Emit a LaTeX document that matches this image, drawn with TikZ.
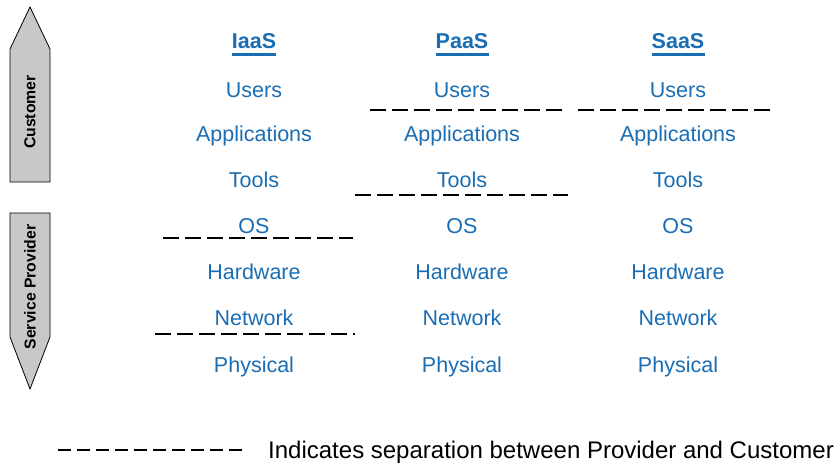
\documentclass[tikz,border=0pt]{standalone}
\usepackage{fontspec}
\setmainfont{Liberation Sans}
\usepackage{tikz}
\usetikzlibrary{positioning}

\definecolor{layerblue}{RGB}{26,109,179}
\definecolor{sidegray}{RGB}{200,200,200}

\tikzset{
  layer/.style={anchor=base, inner sep=0pt, text=layerblue, font=\fontsize{21.5}{25}\selectfont},
  model/.style={anchor=base, inner sep=0pt, text=layerblue, font=\fontsize{21.5}{25}\selectfont\bfseries},
  cut/.style={black, line width=2.4pt, dash pattern=on 16pt off 6pt},
  side/.style={draw=black, fill=sidegray, line width=0.8pt},
  sidetext/.style={rotate=90, font=\fontsize{15.8}{18}\selectfont\bfseries}
}

\begin{document}
\begin{tikzpicture}[x=1pt, y=-1pt]
\useasboundingbox (0,0) rectangle (835,464);

% side arrows
\draw[side] (10,182) -- (10,49) -- (30,7) -- (50,49) -- (50,182) -- cycle;
\draw[side] (10,213) -- (10,337) -- (30,389) -- (50,337) -- (50,213) -- cycle;
\node[sidetext] (cust) at (30,112) {Customer};
\node[sidetext] (prov) at (30,287) {Service Provider};

% column headings
\node[model] (iaas) at (254,48) {IaaS};
\node[model] (paas) at (462,48) {PaaS};
\node[model] (saas) at (678,48) {SaaS};
\foreach \m in {iaas, paas, saas}
  \draw[layerblue, line width=2.5pt] ([yshift=-6pt]\m.south west) -- ([yshift=-6pt]\m.south east);

% layers
\foreach \c/\x in {i/254, p/462, s/678} {
  \node[layer] (\c users) at (\x,97) {Users};
  \node[layer] (\c apps) at (\x,141) {Applications};
  \node[layer] (\c tools) at (\x,187) {Tools};
  \node[layer] (\c os) at (\x,233) {OS};
  \node[layer] (\c hw) at (\x,279) {Hardware};
  \node[layer] (\c net) at (\x,325) {Network};
  \node[layer] (\c phys) at (\x,372) {Physical};
}

% provider / customer cuts
\coordinate (ia) at (163,238);
\coordinate (ib) at (353,238);
\coordinate (ic) at (155,334);
\coordinate (id) at (355,334);
\coordinate (pa) at (370,110);
\coordinate (pb) at (562,110);
\coordinate (pc) at (355,195);
\coordinate (pd) at (568,195);
\coordinate (sa) at (578,110);
\coordinate (sb) at (770,110);
\draw[cut] (ia) -- (ib);
\draw[cut] (ic) -- (id);
\draw[cut] (pa) -- (pb);
\draw[cut] (pc) -- (pd);
\draw[cut] (sa) -- (sb);

% legend
\coordinate (la) at (58,450);
\coordinate (lb) at (247,450);
\draw[black, line width=1.8pt, dash pattern=on 13pt off 6pt] (la) -- (lb);
\node[anchor=base west, inner sep=0pt, font=\fontsize{24}{28}\selectfont] (legend) at (268,458)
  {Indicates separation between Provider and Customer};
\end{tikzpicture}
\end{document}
